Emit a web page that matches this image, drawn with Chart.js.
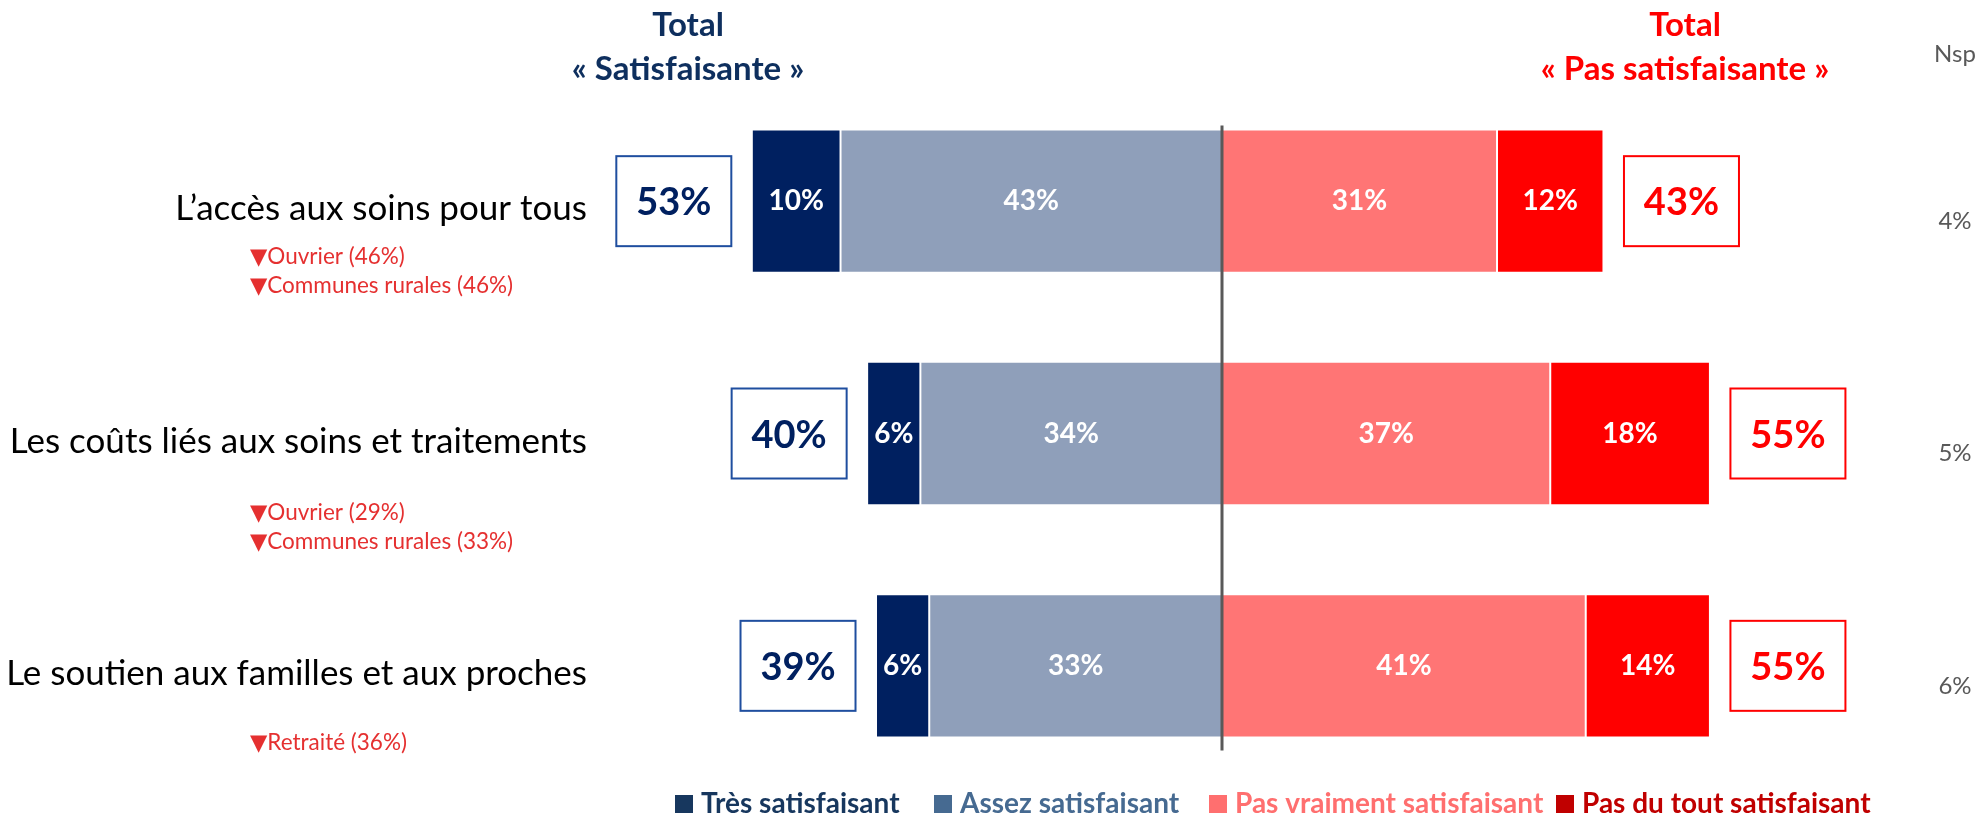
<!DOCTYPE html>
<html lang="fr">
<head>
<meta charset="utf-8">
<title>Satisfaction</title>
<script src="https://cdn.jsdelivr.net/npm/chart.js@4/dist/chart.umd.min.js"></script>
<style>
    body { margin: 0; background: #fff; }
    #chart { display: block; }
</style>
</head>
<body>
<canvas id="chart" width="1980" height="817"></canvas>
<script>
// Data
const categories = [
    'L’accès aux soins pour tous',
    'Les coûts liés aux soins et traitements',
    'Le soutien aux familles et aux proches'
];
const tresSatisfaisant = [10, 6, 6];
const assezSatisfaisant = [43, 34, 33];
const pasVraimentSatisfaisant = [31, 37, 41];
const pasDuToutSatisfaisant = [12, 18, 14];
const totalSatisfaisante = [53, 40, 39];
const totalPasSatisfaisante = [43, 55, 55];
const nsp = [4, 5, 6];
const sousGroupes = [
    ['Ouvrier (46%)', 'Communes rurales (46%)'],
    ['Ouvrier (29%)', 'Communes rurales (33%)'],
    ['Retraité (36%)']
];

const FONT = 'Lato, "DejaVu Sans", sans-serif';
Chart.defaults.font.family = FONT;

// Legend order as shown in the picture
const legendItems = [
    { label: 'Très satisfaisant', color: '#17375E', x: 675 },
    { label: 'Assez satisfaisant', color: '#466A91', x: 934 },
    { label: 'Pas vraiment satisfaisant', color: '#FF6F6F', x: 1209 },
    { label: 'Pas du tout satisfaisant', color: '#C00000', x: 1556 }
];

// Vertical offset of the red sub-group notes under each label
const noteOffsets = [56, 79, 77];

const annotations = {
    id: 'annotations',
    afterDatasetsDraw(chart) {
        const ctx = chart.ctx;
        const xScale = chart.scales.x;
        const metas = chart.data.datasets.map((d, i) => chart.getDatasetMeta(i));
        ctx.save();

        // values inside the bars
        ctx.font = 'bold 28px ' + FONT;
        ctx.fillStyle = '#fff';
        ctx.textAlign = 'center';
        ctx.textBaseline = 'middle';
        chart.data.datasets.forEach((ds, i) => {
            metas[i].data.forEach((bar, j) => {
                ctx.fillText(Math.abs(ds.data[j]) + '%', (bar.x + bar.base) / 2, bar.y);
            });
        });

        // centre line
        const first = metas[0].data[0];
        const last = metas[0].data[metas[0].data.length - 1];
        const x0 = xScale.getPixelForValue(0);
        ctx.strokeStyle = '#595959';
        ctx.lineWidth = 3;
        ctx.beginPath();
        ctx.moveTo(x0, first.y - first.height / 2 - 4);
        ctx.lineTo(x0, last.y + last.height / 2 + 13);
        ctx.stroke();

        // total boxes
        ctx.font = 'bold 38px ' + FONT;
        ctx.lineWidth = 2;
        const boxW = 115, boxH = 90, dist = 78;
        metas[1].data.forEach((bar, j) => {
            const cx = bar.x - dist;
            ctx.strokeStyle = '#1F4E9F';
            ctx.strokeRect(cx - boxW / 2, bar.y - boxH / 2, boxW, boxH);
            ctx.fillStyle = '#002060';
            ctx.fillText(totalSatisfaisante[j] + '%', cx, bar.y + 2);
        });
        metas[3].data.forEach((bar, j) => {
            const cx = bar.x + dist;
            ctx.strokeStyle = '#FF0000';
            ctx.strokeRect(cx - boxW / 2, bar.y - boxH / 2, boxW, boxH);
            ctx.fillStyle = '#FF0000';
            ctx.fillText(totalPasSatisfaisante[j] + '%', cx, bar.y + 2);
        });

        // Nsp column
        ctx.font = '24px ' + FONT;
        ctx.fillStyle = '#595959';
        ctx.fillText('Nsp', 1955, 54);
        metas[0].data.forEach((bar, j) => {
            ctx.fillText(nsp[j] + '%', 1955, bar.y + 20);
        });

        // headers
        ctx.font = 'bold 33px ' + FONT;
        ctx.fillStyle = '#0E2F5E';
        ctx.fillText('Total', 688, 25);
        ctx.fillText('« Satisfaisante »', 688, 69);
        ctx.fillStyle = '#FF0000';
        ctx.fillText('Total', 1685, 25);
        ctx.fillText('« Pas satisfaisante »', 1685, 69);

        // red sub-group notes
        ctx.font = '22.5px ' + FONT;
        ctx.fillStyle = '#E53030';
        ctx.textAlign = 'left';
        metas[0].data.forEach((bar, j) => {
            sousGroupes[j].forEach((txt, k) => {
                ctx.fillText('▼' + txt, 250, bar.y + noteOffsets[j] + k * 29);
            });
        });

        // legend
        ctx.font = 'bold 28px ' + FONT;
        legendItems.forEach(item => {
            ctx.fillStyle = item.color;
            ctx.fillRect(item.x, 795, 18, 18);
            ctx.fillText(item.label, item.x + 26, 804);
        });

        ctx.restore();
    }
};

new Chart(document.getElementById('chart').getContext('2d'), {
    type: 'bar',
    data: {
        labels: categories,
        datasets: [
            {
                label: 'Assez satisfaisant',
                data: assezSatisfaisant.map(v => -v),
                backgroundColor: '#8F9FBA'
            },
            {
                label: 'Très satisfaisant',
                data: tresSatisfaisant.map(v => -v),
                backgroundColor: '#002060'
            },
            {
                label: 'Pas vraiment satisfaisant',
                data: pasVraimentSatisfaisant,
                backgroundColor: '#FF7575'
            },
            {
                label: 'Pas du tout satisfaisant',
                data: pasDuToutSatisfaisant,
                backgroundColor: '#FF0000'
            }
        ]
    },
    options: {
        responsive: false,
        animation: false,
        indexAxis: 'y',
        layout: {
            padding: { left: 0, right: 137, top: 85, bottom: 31 }
        },
        datasets: {
            bar: {
                categoryPercentage: 1,
                barPercentage: 0.617,
                borderWidth: 1,
                borderColor: '#fff',
                borderSkipped: false
            }
        },
        scales: {
            x: {
                stacked: true,
                min: -70,
                max: 70,
                display: false
            },
            y: {
                stacked: true,
                grid: { display: false, drawTicks: false },
                border: { display: false },
                ticks: {
                    color: '#000',
                    font: { size: 35 },
                    padding: 14,
                    labelOffset: 8
                },
                afterFit(scale) {
                    scale.width = 601;
                }
            }
        },
        plugins: {
            legend: { display: false },
            tooltip: { enabled: false }
        }
    },
    plugins: [annotations]
});
</script>
</body>
</html>
